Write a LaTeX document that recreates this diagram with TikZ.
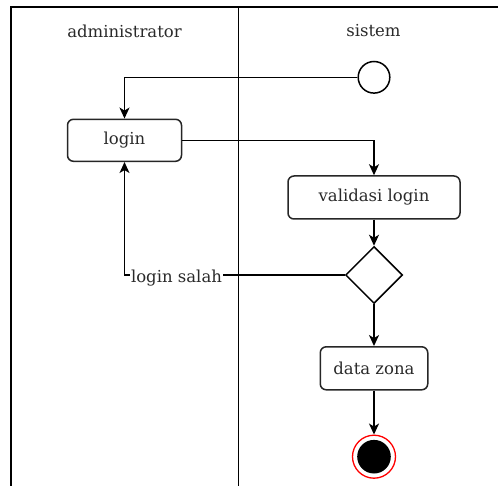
\documentclass[tikz,border=0pt]{standalone}
\usepackage{fontspec}
\setmainfont{DejaVu Serif}
\usetikzlibrary{arrows.meta,shapes.geometric}
\definecolor{txt}{HTML}{2A2A2A}
\tikzset{
  lane/.style={line width=1.6pt, draw=black},
  act/.style={draw=black!85, line width=1.5pt, rounded corners=6pt, fill=white, text=txt,
    font=\fontsize{16.5}{18}\selectfont, inner sep=0pt},
  title/.style={text=txt, font=\fontsize{16.5}{18}\selectfont},
  arr/.style={line width=1.5pt, draw=black, -{Stealth[length=11pt,width=10pt,inset=3pt]}},
}
\begin{document}
\begin{tikzpicture}[x=1pt,y=-1pt]
\useasboundingbox (0,0) rectangle (498,486);
% swimlanes
\draw[lane] (11,486) -- (11,7.3) -- (498,7.3);
\draw[lane] (238.3,7.3) -- (238.3,486);
\node[title] (t1) at (124.5,31) {administrator};
\node[title] (t2) at (373.5,31) {sistem};
% nodes
\node[circle, draw=black, line width=1.5pt, fill=white, minimum size=31.6pt, inner sep=0pt] (startn) at (374,77.3) {};
\node[act, minimum width=114pt, minimum height=42pt] (login) at (124.5,140.3) {login};
\node[act, minimum width=172pt, minimum height=43pt] (valid) at (374,197.5) {validasi login};
\node[diamond, aspect=1, draw=black, line width=1.5pt, fill=white, minimum size=57pt, inner sep=0pt] (decbox) at (374,275) {};
\node[act, minimum width=107.5pt, minimum height=43pt] (zona) at (374,368.3) {data zona};
\node[circle, draw=red, line width=1.3pt, fill=white, minimum size=43pt, inner sep=0pt] (endn) at (374,456.7) {};
\fill[black] (endn.center) circle (16.8pt);
% connectors
\draw[arr] (startn.west) -| (login.north);
\draw[arr] (login.east) -| (valid.north);
\draw[arr] (valid.south) -- (decbox.north);
\draw[arr] (decbox.west) -| (login.south);
\node[fill=white, text=txt, font=\fontsize{16.5}{18}\selectfont, inner sep=1pt] (lbl) at (176.5,278.5) {login salah};
\draw[arr] (decbox.south) -- (zona.north);
\draw[arr] (zona.south) -- (endn.north);
\end{tikzpicture}
\end{document}
